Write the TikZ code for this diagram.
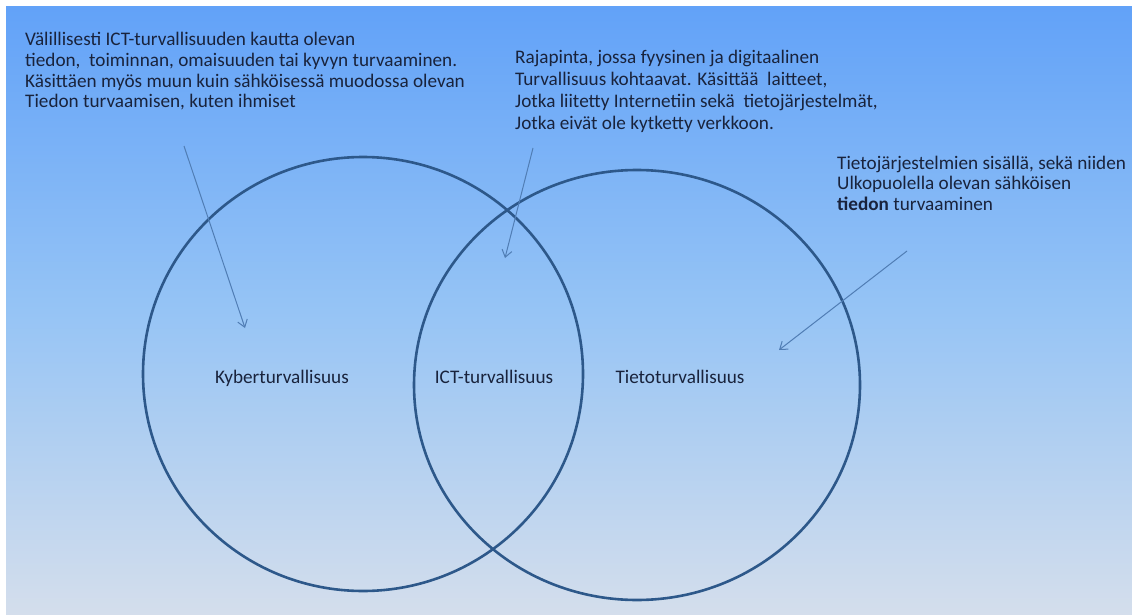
\documentclass[tikz,border=0pt]{standalone}
\usepackage{fontspec}
\setmainfont{Carlito}
\usetikzlibrary{arrows.meta}
\definecolor{bgtop}{RGB}{98,162,248}
\definecolor{bgmid}{RGB}{150,196,245}
\definecolor{bgbot}{RGB}{212,222,236}
\definecolor{ringc}{RGB}{45,88,138}
\definecolor{arrc}{RGB}{80,125,180}
\definecolor{txtc}{RGB}{25,35,60}
\tikzset{
  note/.style={anchor=base west, inner sep=0pt, align=left, text=txtc,
    font=\fontsize{19.2}{20.7}\selectfont},
  lbl/.style={anchor=base, inner sep=0pt, text=txtc, font=\fontsize{19.2}{21}\selectfont},
  ring/.style={draw=ringc, line width=2.6pt},
  pointer/.style={draw=arrc, line width=1pt, -{Straight Barb[length=7pt,width=10pt]}}
}
\begin{document}
\begin{tikzpicture}[x=1pt,y=-1pt]
\useasboundingbox (0,0) rectangle (1132,615);
\fill[white] (0,0) rectangle (1132,615);
\shade[top color=bgtop, bottom color=bgbot, middle color=bgmid] (6,7) rectangle (1132,615);
% circles
\draw[ring] (363,374) ellipse [x radius=220, y radius=217];
\draw[ring] (637,385) ellipse [x radius=223, y radius=215];
% texts (base anchor = baseline of last line)
\node[note] (left) at (25,108) {Välillisesti ICT-turvallisuuden kautta olevan\\tiedon,\ \ toiminnan, omaisuuden tai kyvyn turvaaminen.\\Käsittäen myös muun kuin sähköisessä muodossa olevan\\Tiedon turvaamisen, kuten ihmiset};
\node[note, font=\fontsize{19.2}{21.8}\selectfont] (mid) at (515,129) {Rajapinta, jossa fyysinen ja digitaalinen\\Turvallisuus kohtaavat. Käsittää\ \ laitteet,\\Jotka liitetty Internetiin sekä\ \ tietojärjestelmät,\\Jotka eivät ole kytketty verkkoon.};
\node[note, font=\fontsize{19.2}{20.2}\selectfont] (right) at (837,210) {Tietojärjestelmien sisällä, sekä niiden\\Ulkopuolella olevan sähköisen\\\textbf{tiedon} turvaaminen};
% labels
\node[lbl] (kyber) at (282,383) {Kyberturvallisuus};
\node[lbl] (ict) at (494,383) {ICT-turvallisuus};
\node[lbl] (tieto) at (680,383) {Tietoturvallisuus};
% arrows
\coordinate (a1s) at (184,146);
\coordinate (a1e) at (245,328);
\coordinate (a2s) at (533,148);
\coordinate (a2e) at (505,258);
\coordinate (a3s) at (907,251);
\coordinate (a3e) at (779,350);
\draw[pointer] (a1s) -- (a1e);
\draw[pointer] (a2s) -- (a2e);
\draw[pointer] (a3s) -- (a3e);
\end{tikzpicture}
\end{document}
